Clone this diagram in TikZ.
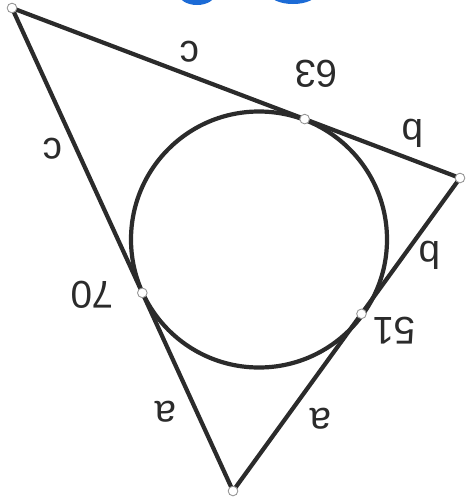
\documentclass[tikz,border=0pt]{standalone}
\usepackage{fontspec}
\setmainfont{Liberation Sans}
\usetikzlibrary{calc}
\definecolor{trazo}{HTML}{2B2B2B}
\definecolor{azul}{HTML}{1C6BD6}

\begin{document}
\begin{tikzpicture}[
  x=0.02cm, y=-0.02cm,
  lado/.style={draw=trazo, line width=2.4pt, line join=round},
  punto/.style={circle, draw=trazo!50, fill=white, inner sep=0pt, minimum size=5.5pt, line width=0.5pt},
  etq/.style={rotate=180, font=\fontsize{22}{26}\selectfont, text=trazo, inner sep=0pt},
  mancha/.style={fill=azul}
]
\useasboundingbox (0,0) rectangle (472,501);
\clip (0,0) rectangle (472,501);

% vertices and incircle centre
\coordinate (A) at (12,8);
\coordinate (B) at (460,178);
\coordinate (C) at (233,491);
\coordinate (O) at (259,239.5);

% points of contact
\coordinate (tAB) at ($(A)!(O)!(B)$);
\coordinate (tAC) at ($(A)!(O)!(C)$);
\coordinate (tBC) at ($(B)!(O)!(C)$);

% blue marks cut by the top edge
\fill[mancha] (197,-6) ellipse [x radius=18, y radius=11];
\fill[mancha] (293,-7) ellipse [x radius=24, y radius=11];

\draw[lado] (A) -- (B) -- (C) -- cycle;
\draw[lado] (O) circle [radius=128];

\node[punto] (pA) at (A) {};
\node[punto] (pB) at (B) {};
\node[punto] (pC) at (C) {};
\node[punto] (pAB) at (tAB) {};
\node[punto] (pAC) at (tAC) {};
\node[punto] (pBC) at (tBC) {};

\node[etq] (c1) at (190,52) {c};
\node[etq] (c2) at (53,149) {c};
\node[etq] (b1) at (413,133) {b};
\node[etq] (b2) at (430,255) {b};
\node[etq] (a1) at (166,412) {a};
\node[etq] (a2) at (321,419) {a};
\node[etq] (n63) at (316,74) {63};
\node[etq] (n70) at (92,295) {70};
\node[etq] (n51) at (394,331) {51};
\end{tikzpicture}
\end{document}
